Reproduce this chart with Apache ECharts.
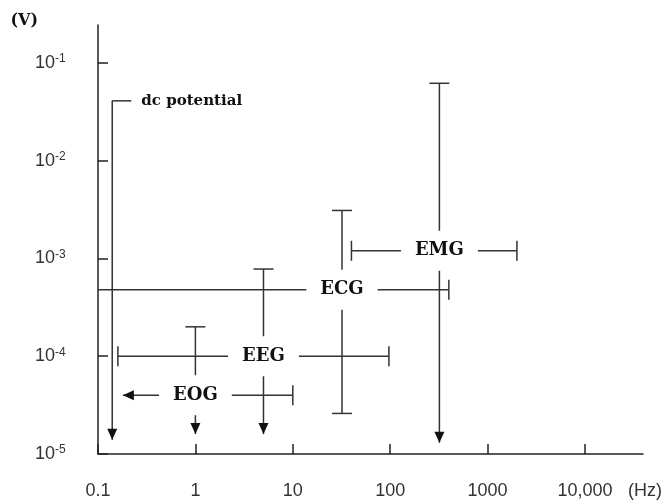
<!DOCTYPE html>
<html><head><meta charset="utf-8">
<script src="https://cdn.jsdelivr.net/npm/echarts@6/dist/echarts.min.js"></script>
<style>html,body{margin:0;padding:0;background:#fff}#c{width:665px;height:503px}</style>
</head><body><div id="c"></div>
<script>
// ---- axis ticks ----
const xTickValues = [0.1, 1, 10, 100, 1000, 10000];
const xTickLabels = ['0.1', '1', '10', '100', '1000', '10,000'];
const yTickValues = [1e-5, 1e-4, 1e-3, 1e-2, 1e-1];
const yTickExponents = ['-5', '-4', '-3', '-2', '-1'];
const xRange = [0.1, 39400];
const yRange = [1e-5, 0.2447];

// ---- signals: frequency range (Hz) and amplitude range (V) ----
const signals = ['EOG', 'EEG', 'ECG', 'EMG'];
const freqLow = [0.18, 0.16, 0.1, 40];
const freqHigh = [10, 97, 400, 2000];
const freqMark = [1, 5, 32, 320];          // where the amplitude bar stands
const voltLow = [1.6e-5, 1.6e-5, 2.6e-5, 1.3e-5];
const voltHigh = [2.0e-4, 7.8e-4, 3.1e-3, 6.2e-2];
const voltMark = [4.0e-5, 1.0e-4, 4.8e-4, 1.2e-3]; // where the frequency bar stands
const freqLowEnd = ['arrow', 'cap', 'none', 'cap'];
const freqHighEnd = ['cap', 'cap', 'cap', 'cap'];
const voltLowEnd = ['arrow', 'arrow', 'cap', 'arrow'];
const voltHighEnd = ['cap', 'cap', 'cap', 'cap'];

// ---- dc potential ----
const dcLabel = 'dc potential';
const dcFreq = [0.14];
const dcFreqCorner = [0.22];
const dcVoltHigh = [0.041];
const dcVoltLow = [1.4e-5];

const LINE = '#333';
const LW = 1.5;
const CAP = 10, AL = 11, AW = 5;
const SERIF = '"DejaVu Serif", "Liberation Serif", serif';
const SANS = '"Liberation Sans", Arial, sans-serif';

function endMark(kind, p, dir, children) {
  const px = -dir[1], py = dir[0];
  if (kind === 'cap') {
    children.push({type: 'line', shape: {x1: p[0] + px * CAP, y1: p[1] + py * CAP, x2: p[0] - px * CAP, y2: p[1] - py * CAP},
      style: {stroke: LINE, lineWidth: LW}});
  } else if (kind === 'arrow') {
    const bx = p[0] - dir[0] * AL, by = p[1] - dir[1] * AL;
    children.push({type: 'polygon', shape: {points: [[p[0], p[1]], [bx + px * AW, by + py * AW], [bx - px * AW, by - py * AW]]},
      style: {fill: '#111'}});
  }
}

function renderSignal(params, api) {
  const i = api.value(2);
  const hL = api.coord([freqLow[i], voltMark[i]]);
  const hR = api.coord([freqHigh[i], voltMark[i]]);
  const vT = api.coord([freqMark[i], voltHigh[i]]);
  const vB = api.coord([freqMark[i], voltLow[i]]);
  const ch = [];
  ch.push({type: 'line', shape: {x1: hL[0], y1: hL[1], x2: hR[0], y2: hR[1]}, style: {stroke: LINE, lineWidth: LW}});
  ch.push({type: 'line', shape: {x1: vT[0], y1: vT[1], x2: vB[0], y2: vB[1]}, style: {stroke: LINE, lineWidth: LW}});
  endMark(freqLowEnd[i], hL, [-1, 0], ch);
  endMark(freqHighEnd[i], hR, [1, 0], ch);
  endMark(voltHighEnd[i], vT, [0, -1], ch);
  endMark(voltLowEnd[i], vB, [0, 1], ch);
  return {type: 'group', children: ch};
}

function renderLabel(params, api) {
  const i = api.value(2);
  const c = api.coord([freqMark[i], voltMark[i]]);
  return {type: 'text', style: {text: signals[i], x: c[0], y: c[1], align: 'center', verticalAlign: 'middle',
    font: 'bold 18px ' + SERIF, fill: '#111', backgroundColor: '#fff', padding: [11, 14]}};
}

function renderDc(params, api) {
  const top = api.coord([dcFreq[0], dcVoltHigh[0]]);
  const bot = api.coord([dcFreq[0], dcVoltLow[0]]);
  const cor = api.coord([dcFreqCorner[0], dcVoltHigh[0]]);
  const ch = [];
  ch.push({type: 'line', shape: {x1: top[0], y1: top[1], x2: bot[0], y2: bot[1]}, style: {stroke: LINE, lineWidth: LW}});
  ch.push({type: 'line', shape: {x1: top[0], y1: top[1], x2: cor[0], y2: cor[1]}, style: {stroke: LINE, lineWidth: LW}});
  endMark('arrow', bot, [0, 1], ch);
  ch.push({type: 'text', style: {text: dcLabel, x: cor[0] + 10, y: cor[1], align: 'left', verticalAlign: 'middle',
    font: 'bold 15px ' + SERIF, fill: '#111'}});
  return {type: 'group', children: ch};
}

const chart = echarts.init(document.getElementById('c'), null, {renderer: 'canvas'});
chart.setOption({
  animation: false,
  backgroundColor: '#fff',
  grid: {left: 98, right: 22, top: 25, bottom: 49, containLabel: false, outerBoundsMode: 'none'},
  xAxis: {
    type: 'log', logBase: 10, min: xRange[0], max: xRange[1],
    name: '(Hz)', nameLocation: 'end', nameGap: -15,
    nameTextStyle: {fontFamily: SANS, fontSize: 18, color: '#333', verticalAlign: 'top', align: 'left', padding: [28, 0, 0, 0]},
    axisLine: {show: true, lineStyle: {color: '#222', width: 1.5}},
    axisTick: {show: true, inside: true, length: 10, lineStyle: {color: '#222', width: 1.5}, customValues: xTickValues},
    axisLabel: {show: true, margin: 28, fontFamily: SANS, fontSize: 18, color: '#333', customValues: xTickValues,
      formatter: function (v) { const k = xTickValues.findIndex(t => Math.abs(Math.log10(t) - Math.log10(v)) < 1e-6); return k >= 0 ? xTickLabels[k] : ''; }},
    splitLine: {show: false}, minorTick: {show: false}
  },
  yAxis: {
    type: 'log', logBase: 10, min: yRange[0], max: yRange[1],
    name: '(V)', nameLocation: 'end', nameGap: -4,
    nameTextStyle: {fontFamily: SERIF, fontWeight: 'bold', fontSize: 16, color: '#111', align: 'right', padding: [0, 60, 0, 0]},
    axisLine: {show: true, lineStyle: {color: '#222', width: 1.5}},
    axisTick: {show: true, inside: true, length: 10, lineStyle: {color: '#222', width: 1.5}, customValues: yTickValues},
    axisLabel: {show: true, margin: 63, align: 'left', customValues: yTickValues,
      formatter: function (v) { const k = yTickValues.findIndex(t => Math.abs(Math.log10(t) - Math.log10(v)) < 1e-6); return k >= 0 ? '{b|10}{s|' + yTickExponents[k] + '}' : ''; },
      rich: {
        b: {fontFamily: SANS, fontSize: 18, color: '#333', lineHeight: 20},
        s: {fontFamily: SANS, fontSize: 12, color: '#333', lineHeight: 20, verticalAlign: 'top'}
      }},
    splitLine: {show: false}, minorTick: {show: false}
  },
  series: [
    {type: 'custom', name: 'signals', clip: false, z: 2, renderItem: renderSignal,
      data: signals.map((s, i) => [freqMark[i], voltMark[i], i])},
    {type: 'custom', name: 'labels', clip: false, z: 3, renderItem: renderLabel,
      data: signals.map((s, i) => [freqMark[i], voltMark[i], i])},
    {type: 'custom', name: 'dc', clip: false, z: 2, renderItem: renderDc,
      data: [[dcFreq[0], dcVoltHigh[0], 0]]}
  ]
});
</script></body></html>
